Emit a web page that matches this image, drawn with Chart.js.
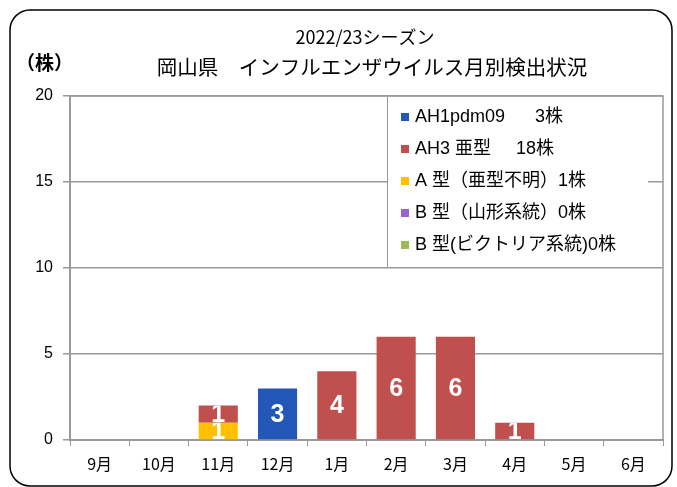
<!DOCTYPE html>
<html>
<head>
<meta charset="utf-8">
<title>インフルエンザウイルス月別検出状況</title>
<script src="https://cdn.jsdelivr.net/npm/chart.js@4.4.1/dist/chart.umd.min.js"></script>
<style>
  html, body { margin: 0; padding: 0; background: #fff; }
  #wrap { width: 677px; height: 487px; position: relative; }
</style>
</head>
<body>
<div id="wrap"><canvas id="chart" width="677" height="487"></canvas></div>
<script>
// months on the x axis
var months = ['9月', '10月', '11月', '12月', '1月', '2月', '3月', '4月', '5月', '6月'];

// detections per month, one array per type
var ah1pdm = [0, 0, 0, 3, 0, 0, 0, 0, 0, 0];
var ah3    = [0, 0, 1, 0, 4, 6, 6, 1, 0, 0];
var aUnk   = [0, 0, 1, 0, 0, 0, 0, 0, 0, 0];
var bYam   = [0, 0, 0, 0, 0, 0, 0, 0, 0, 0];
var bVic   = [0, 0, 0, 0, 0, 0, 0, 0, 0, 0];

var yTicks = [0, 5, 10, 15, 20];

var FONT = '"Liberation Sans", "Noto Sans CJK JP", sans-serif';
var JFONT = '"Noto Sans CJK JP", "Liberation Sans", sans-serif';
var NARROW = '"Liberation Sans Narrow", "Liberation Sans", sans-serif';

// stacking goes bottom-up by dataset index, so A型 goes first
var datasets = [
  { label: 'A 型（亜型不明）', data: aUnk, backgroundColor: '#ffc000', legendName: 'A 型（亜型不明）' },
  { label: 'AH3 亜型', data: ah3, backgroundColor: '#c0504d', legendName: 'AH3 亜型     ' },
  { label: 'AH1pdm09', data: ah1pdm, backgroundColor: '#2358b8', legendName: 'AH1pdm09      ' },
  { label: 'B 型（山形系統）', data: bYam, backgroundColor: '#9966cc', legendName: 'B 型（山形系統）' },
  { label: 'B 型(ビクトリア系統)', data: bVic, backgroundColor: '#9bbb59', legendName: 'B 型(ビクトリア系統)' }
];
var legendOrder = [2, 1, 0, 3, 4];

var decor = {
  id: 'decor',
  beforeDraw: function(chart) {
    var ctx = chart.ctx;
    ctx.save();
    ctx.fillStyle = '#fff';
    ctx.fillRect(0, 0, chart.width, chart.height);
    ctx.restore();
  },
  afterDatasetsDraw: function(chart) {
    var ctx = chart.ctx;
    var a = chart.chartArea;
    ctx.save();
    // value labels inside bars, clipped to the bar like in excel
    chart.data.datasets.forEach(function(ds, i) {
      var meta = chart.getDatasetMeta(i);
      meta.data.forEach(function(bar, j) {
        var v = ds.data[j];
        if (!v) return;
        var top = Math.min(bar.y, bar.base), h = Math.abs(bar.base - bar.y);
        ctx.save();
        ctx.beginPath();
        ctx.rect(bar.x - bar.width / 2, top, bar.width, h);
        ctx.clip();
        ctx.fillStyle = '#fff';
        ctx.font = 'bold 25px ' + NARROW;
        ctx.textAlign = 'center';
        ctx.textBaseline = 'middle';
        ctx.fillText(String(v), bar.x, top + h / 2 + 1);
        ctx.restore();
      });
    });

    // plot frame top + right
    ctx.strokeStyle = '#999';
    ctx.lineWidth = 1.5;
    ctx.beginPath();
    ctx.moveTo(a.left, a.top);
    ctx.lineTo(a.right, a.top);
    ctx.lineTo(a.right, a.bottom);
    ctx.stroke();

    // legend box inside the plot
    var lx = 387, ly = a.top + 1, lw = 261, lh = 170;
    ctx.fillStyle = '#fff';
    ctx.fillRect(lx, ly, lw, lh);
    ctx.strokeStyle = '#999';
    ctx.lineWidth = 1;
    ctx.beginPath();
    ctx.moveTo(lx + 0.5, ly);
    ctx.lineTo(lx + 0.5, ly + lh);
    ctx.stroke();

    ctx.font = '18px ' + FONT;
    ctx.textBaseline = 'middle';
    ctx.textAlign = 'left';
    legendOrder.forEach(function(k, r) {
      var ds = chart.data.datasets[k];
      var y = 117 + r * 32;
      var total = ds.data.reduce(function(s, v) { return s + v; }, 0);
      ctx.fillStyle = ds.backgroundColor;
      ctx.fillRect(401, y - 4, 8, 8);
      ctx.fillStyle = '#000';
      ctx.fillText(ds.legendName + total + '株', 415, y);
    });

    // titles
    ctx.fillStyle = '#000';
    ctx.textAlign = 'center';
    ctx.font = '18px ' + JFONT;
    ctx.fillText('2022/23シーズン', 365, 37);
    ctx.font = '20.5px ' + JFONT;
    ctx.fillText('岡山県　インフルエンザウイルス月別検出状況', 372, 67);
    ctx.textAlign = 'left';
    ctx.font = 'bold 19px ' + JFONT;
    ctx.fillText('（株）', 16, 63);

    // outer rounded frame
    ctx.strokeStyle = '#000';
    ctx.lineWidth = 1.5;
    ctx.beginPath();
    ctx.roundRect(10, 10, 662, 476, 20);
    ctx.stroke();
    ctx.restore();
  }
};

new Chart(document.getElementById('chart'), {
  type: 'bar',
  data: { labels: months, datasets: datasets },
  options: {
    responsive: false,
    animation: false,
    layout: { padding: { left: 0, top: 96, right: 14, bottom: 0 } },
    plugins: { legend: { display: false }, title: { display: false }, tooltip: { enabled: false } },
    datasets: { bar: { barPercentage: 0.66, categoryPercentage: 1.0, borderWidth: 0 } },
    scales: {
      x: {
        stacked: true,
        grid: { drawOnChartArea: false, drawTicks: true, tickLength: 6, color: '#999', offset: true },
        border: { color: '#999', width: 2 },
        ticks: { color: '#000', font: { size: 16, family: JFONT }, padding: 8, maxRotation: 0 },
        afterFit: function(s) { s.height = 47; }
      },
      y: {
        stacked: true,
        min: 0, max: 20,
        afterBuildTicks: function(s) { s.ticks = yTicks.map(function(v) { return { value: v }; }); },
        grid: { color: '#999', lineWidth: 1.5, tickLength: 7 },
        border: { color: '#999', width: 2 },
        ticks: { color: '#000', font: { size: 16, family: FONT }, padding: 10 },
        afterFit: function(s) { s.width = 70; }
      }
    }
  },
  plugins: [decor]
});
</script>
</body>
</html>
